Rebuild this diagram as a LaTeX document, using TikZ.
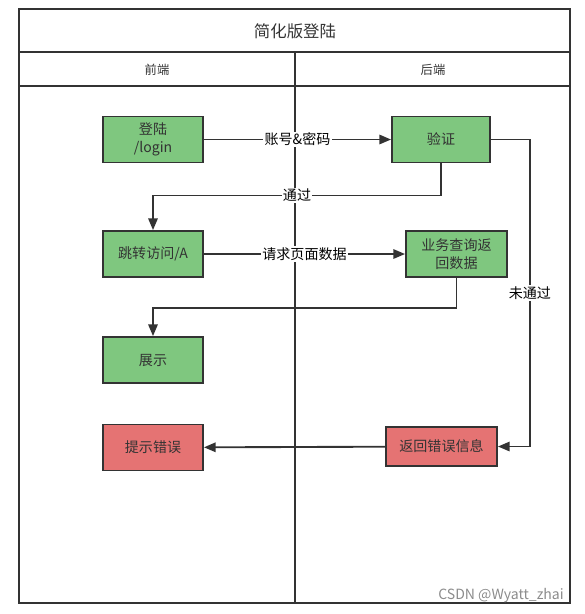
\documentclass[tikz,border=0pt]{standalone}
\usepackage{fontspec}
\setmainfont{Noto Sans CJK SC}
\usetikzlibrary{arrows.meta}
\definecolor{boxgreen}{HTML}{7FC77F}
\definecolor{boxred}{HTML}{E57373}
\definecolor{linegray}{HTML}{333333}
\begin{document}
\begin{tikzpicture}[x=0.03cm,y=-0.03cm,
    lane/.style={draw=linegray,line width=1.6pt},
    okbox/.style={draw=linegray,line width=1.6pt,fill=boxgreen,text=linegray,
        minimum width=3cm,minimum height=1.38cm,align=center,inner sep=1pt,
        font=\fontsize{12}{15}\selectfont},
    errbox/.style={okbox,fill=boxred},
    flow/.style={draw=linegray,line width=1.6pt,-{Triangle[length=10pt,width=8pt]}},
    flowlabel/.style={fill=white,inner sep=1pt,text=black,font=\fontsize{12}{13}\selectfont}]
    \useasboundingbox (0,0) rectangle (584,614);
    % swimlanes
    \draw[lane] (19,9) rectangle (570,603);
    \draw[lane] (19,52) -- (570,52);
    \draw[lane] (19,86) -- (570,86);
    \draw[lane] (295,52) -- (295,603);
    \node[text=linegray,font=\fontsize{14}{16}\selectfont] (title) at (295,31) {简化版登陆};
    \node[text=linegray,font=\fontsize{10.5}{12}\selectfont] (front) at (157,70) {前端};
    \node[text=linegray,font=\fontsize{10.5}{12}\selectfont] (back) at (433,70) {后端};
    % steps
    \node[okbox] (login) at (153,139.5) {登陆\\/login};
    \node[okbox,minimum width=2.94cm] (verify) at (441,139.5) {验证};
    \node[okbox] (jump) at (153,254) {跳转访问/A};
    \node[okbox,minimum width=3.03cm] (query) at (456.5,254) {业务查询返\\回数据};
    \node[okbox] (show) at (153,360) {展示};
    \node[errbox] (showerr) at (153,447.5) {提示错误};
    \node[errbox,minimum width=3.33cm,minimum height=1.17cm] (reterr) at (441.5,446.5) {返回错误信息};
    % flows
    \draw[flow] (login) -- node[flowlabel] {账号\&密码} (verify);
    \draw[flow] (verify.south) -- ++(0,32) -| node[flowlabel,pos=0.25] {通过} (jump.north);
    \draw[flow] (jump) -- node[flowlabel] {请求页面数据} (query);
    \draw[flow] (query.south) -- ++(0,30) -| (show.north);
    \draw[flow] (verify.east) -- ++(39,0) |- node[flowlabel,pos=0.25] {未通过} (reterr.east);
    \draw[flow] (reterr) -- (showerr);
    % watermark
    \node[text=black!45,font=\fontsize{12}{14}\selectfont] (mark) at (501,596) {CSDN @Wyatt\_zhai};
\end{tikzpicture}
\end{document}
